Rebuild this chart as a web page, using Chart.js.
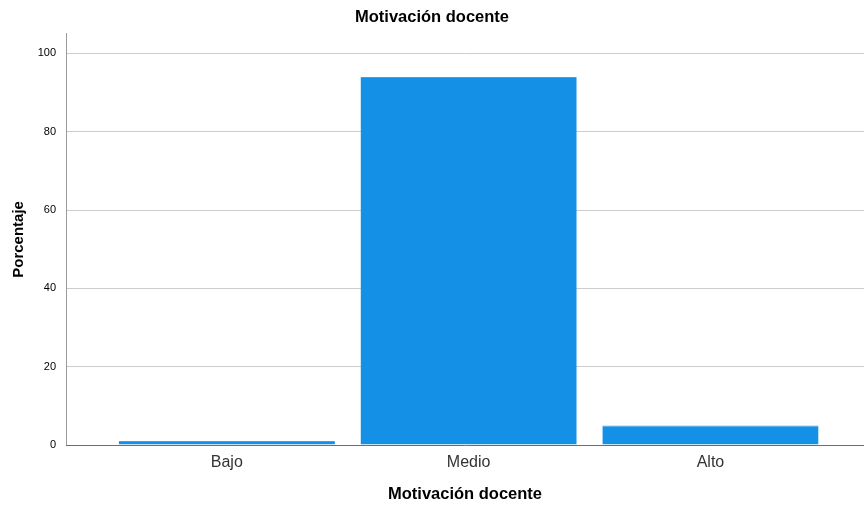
<!DOCTYPE html>
<html>
<head>
<meta charset="utf-8">
<script src="https://cdn.jsdelivr.net/npm/chart.js@4"></script>
<style>
  body { margin: 0; background: #fff; }
  #grafico { display: block; }
</style>
</head>
<body>
<canvas id="grafico" width="864" height="507"></canvas>
<script>
var categorias = ["Bajo", "Medio", "Alto"];
var porcentajes = [1.0, 94.0, 5.0];
var ticksY = [0, 20, 40, 60, 80, 100];

var puntos = porcentajes.map(function (v, i) { return { x: i, y: v }; });

var fuente = "'Liberation Sans', Arial, sans-serif";

var config = {
    type: "bar",
    data: {
        datasets: [{
            label: "Porcentaje",
            data: puntos,
            backgroundColor: "#1490e6",
            borderColor: "#3aa2ea",
            borderWidth: { top: 1, left: 0, right: 0, bottom: 0 },
            borderSkipped: "bottom",
            barPercentage: 0.894,
            categoryPercentage: 1
        }]
    },
    options: {
        responsive: false,
        animation: false,
        layout: { padding: 0 },
        plugins: {
            legend: { display: false },
            tooltip: { enabled: false },
            title: {
                display: true,
                text: "Motivación docente",
                color: "#000",
                font: { family: fuente, size: 16.5, weight: "bold" },
                padding: { top: 8, bottom: 6 }
            }
        },
        scales: {
            x: {
                type: "linear",
                offset: false,
                min: -0.665,
                max: 2.635,
                afterBuildTicks: function (axis) {
                    axis.ticks = categorias.map(function (c, i) { return { value: i }; });
                },
                afterFit: function (axis) { axis.height = 62; },
                grid: { display: false, drawTicks: false },
                border: { display: true, color: "#6e6e6e", width: 1, z: 1 },
                ticks: {
                    autoSkip: false,
                    maxRotation: 0,
                    padding: 8,
                    color: "#333",
                    font: { family: fuente, size: 16 },
                    callback: function (v) { return categorias[v]; }
                },
                title: {
                    display: true,
                    text: "Motivación docente",
                    color: "#000",
                    font: { family: fuente, size: 16.5, weight: "bold" },
                    padding: { top: 0, bottom: 3 }
                }
            },
            y: {
                min: 0,
                max: 105,
                afterBuildTicks: function (axis) {
                    axis.ticks = ticksY.map(function (v) { return { value: v }; });
                },
                afterFit: function (axis) { axis.width = 66; },
                grid: {
                    drawTicks: false,
                    color: function (ctx) { return ctx.tick && ctx.tick.value === 0 ? "rgba(0,0,0,0)" : "#cccccc"; },
                    lineWidth: 1
                },
                border: { display: true, color: "#9a9a9a", width: 1 },
                ticks: {
                    padding: 10,
                    color: "#000",
                    font: { family: fuente, size: 11 }
                },
                title: {
                    display: true,
                    text: "Porcentaje",
                    color: "#000",
                    font: { family: fuente, size: 15, weight: "bold" },
                    padding: { top: 10, bottom: 0 }
                }
            }
        }
    }
};

var grafico = new Chart(document.getElementById("grafico"), config);
</script>
</body>
</html>
